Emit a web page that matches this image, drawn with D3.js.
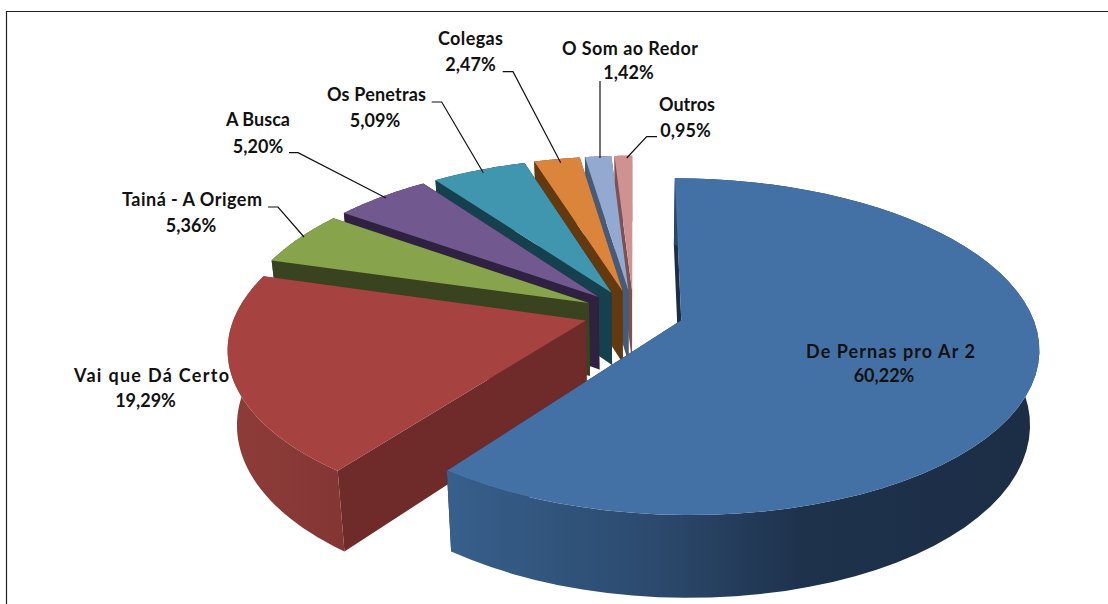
<!DOCTYPE html>
<html><head><meta charset="utf-8">
<style>html,body{margin:0;padding:0;background:#fff;overflow:hidden}svg{display:block}
text{font-family:Lato,"Open Sans",sans-serif;font-weight:700;font-size:18px;fill:#111}</style>
<script src="https://cdn.jsdelivr.net/npm/d3@7/dist/d3.min.js"></script>
</head><body><svg id="c" width="1108" height="604"></svg>
<script>
const categories=["De Pernas pro Ar 2","Vai que Dá Certo","Tainá - A Origem","A Busca","Os Penetras","Colegas","O Som ao Redor","Outros"];
const values=[60.22,19.29,5.36,5.20,5.09,2.47,1.42,0.95];
const topColors=["#4371a6","#a64340","#87a44c","#71588f","#3f96ae","#db843c","#93a9cf","#d09291"];
const cutColors=["#1c2e46","#6e2b29","#39431f","#2e2240","#17404e","#64390f","#465a79","#7d5150"];
const labelPos=[[890.5,352,884,376],[151.5,376,145.5,401],[192,200,191,226],[258,120,258,147],[376.5,95,375,121],[470.5,39,470.5,65],[630,49,628.5,73],[687,105,685.5,131]];
const labelWidths=[169,155,140,64,99,65,136,56];
const leaders=[null,null,[[268,207],[278,207],[304,237]],[[289,152.7],[298,152.7],[386,198]],[[431.7,102],[441.7,102],[483.3,172.7]],[[502.7,71.7],[513,71.7],[560.7,162.7]],[[600,81],[600,158]],[[657,136.7],[646.7,136.7],[626.7,158]]];
const wallStops=[[[0,"#37608c"],[.35,"#2c4a6e"],[.6,"#1e324c"],[1,"#1c2d45"]],[[0,"#8e3c39"],[1,"#843634"]]];

const ox=633.5,oy=313,R=350,e=50,k=162,p=.155,D=75,s=.977;
const svg=d3.select("#c");
svg.append("path").attr("d","M6.5 604V11.5H1108").attr("fill","none").attr("stroke","#222").attr("stroke-width",1.2);
const defs=svg.append("defs");
const pie=d3.pie().sort(null).value(d=>d)(values);
const f=v=>1/(1-p*v/R);
function upper(u,v){const g=f(v);return [ox+u*g,oy+v/R*k*g];}
function lower(u,v){const g=f(v),t=upper(u,v);return [ox+(t[0]-ox)*s,oy+(t[1]-oy)*s+D*g*s];}
const line=d3.line();
pie.forEach(d=>{
  const m=(d.startAngle+d.endAngle)/2;
  d.au=e*Math.sin(m);d.av=-e*Math.cos(m);
  d.arc=d3.range(0,61).map(j=>{const a=d.startAngle+(d.endAngle-d.startAngle)*j/60;return [d.au+R*Math.sin(a),d.av-R*Math.cos(a)];});
});
const order=[7,6,5,4,3,2,1,0];
order.forEach(i=>{
  const d=pie[i];const g=svg.append("g");
  const A=[d.au,d.av],a0=d.arc[0],a1=d.arc[d.arc.length-1];
  g.append("path").attr("d",line([upper(...A),upper(...a1),lower(...a1),lower(...A)])+"Z").attr("fill",cutColors[i]);
  g.append("path").attr("d",line([upper(...A),upper(...a0),lower(...a0),lower(...A)])+"Z").attr("fill",cutColors[i]);
  let fill=cutColors[i];
  if(i<2){
    const id="w"+i,gr=defs.append("linearGradient").attr("id",id).attr("gradientUnits","userSpaceOnUse");
    const xr=i==0?[444,1040]:[228,345];
    gr.attr("x1",xr[0]).attr("x2",xr[1]).attr("y1",0).attr("y2",0);
    wallStops[i].forEach(st=>gr.append("stop").attr("offset",st[0]).attr("stop-color",st[1]));
    fill=`url(#${id})`;
  }
  const band=d.arc.map(q=>upper(...q)).concat(d.arc.slice().reverse().map(q=>lower(...q)));
  g.append("path").attr("d",line(band)+"Z").attr("fill",fill);
  g.append("path").attr("d",line([upper(...A),...d.arc.map(q=>upper(...q))])+"Z").attr("fill",topColors[i]);
});
leaders.forEach(l=>{if(l)svg.append("path").attr("d",line(l)).attr("fill","none").attr("stroke","#111").attr("stroke-width",1.2);});
const pct=v=>d3.format(".2f")(v).replace(".",",")+"%";
categories.forEach((c,i)=>{
  const [x,y1,x2,y2]=labelPos[i];
  svg.append("text").attr("x",x).attr("y",y1+6).attr("text-anchor","middle").attr("textLength",labelWidths[i]).attr("lengthAdjust","spacing").text(c);
  svg.append("text").attr("x",x2).attr("y",y2+6).attr("text-anchor","middle").text(pct(values[i]));
});
</script></body></html>
